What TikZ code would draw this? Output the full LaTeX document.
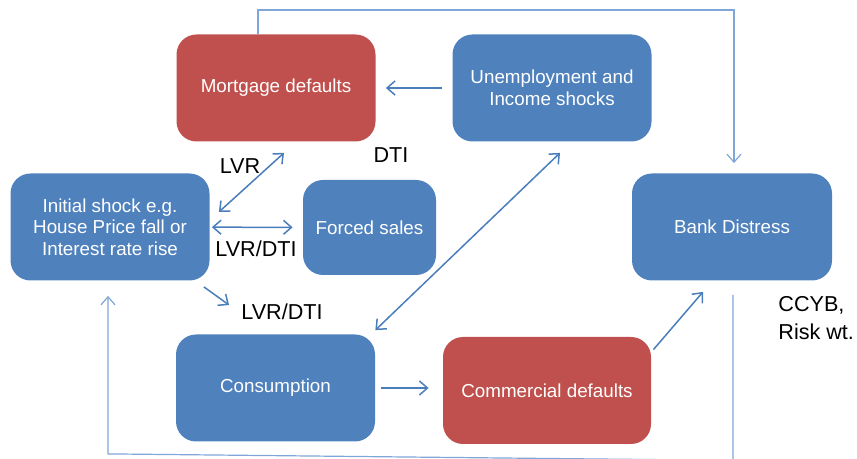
\documentclass[tikz,border=0pt]{standalone}
\usepackage{fontspec}
\setmainfont{Liberation Sans}
\usepackage{tikz}
\usetikzlibrary{calc,arrows.meta,positioning}

\definecolor{boxblue}{HTML}{4F81BD}
\definecolor{boxred}{HTML}{C0504D}
\definecolor{linkblue}{HTML}{4A7EBB}
\definecolor{wireblue}{HTML}{7FA6D8}

\begin{document}
\begin{tikzpicture}[x=0.5pt,y=-0.5pt]

  % Styles
  \tikzstyle{block}=[fill=boxblue,text=white,align=center,minimum width=99.5pt,minimum height=53.5pt,rounded corners=10pt,font=\fontsize{9.4}{10.8}\selectfont]
  \tikzstyle{alarm}=[block,fill=boxred]
  \tikzstyle{link}=[->,>={Straight Barb[length=4pt,width=7pt]},draw=linkblue,line width=0.75pt]
  \tikzstyle{linkboth}=[link,<->]
  \tikzstyle{wire}=[draw=wireblue,line width=0.6pt]
  \tikzstyle{tag}=[font=\fontsize{10.8}{14}\selectfont]

  % \block{<style>}{<id>}{<label>}
  \newcommand{\block}[3]{node[#1] (#2) {#3}}

  % ===========================================================================

  \useasboundingbox (0,0) rectangle (857,459);

  % Draw blocks
  \path (110,227)              \block{block}{init}{Initial shock e.g.\\House Price fall or\\Interest rate rise};
  \path (276,88)               \block{alarm}{mort}{Mortgage defaults};
  \path (mort) +(276,0)        \block{block}{unemp}{Unemployment and\\Income shocks};
  \path (369.5,227.5)          \block{block,minimum width=66.5pt,minimum height=47.5pt}{forced}{Forced sales};
  \path (732,227)              \block{block,minimum width=100pt}{bank}{Bank Distress};
  \path (mort) +(-0.5,300)     \block{block}{cons}{Consumption};
  \path (547,390.5)            \block{alarm,minimum width=104pt}{comm}{Commercial defaults};

  % Draw labels
  \node[tag] (lvr)     at (240,166) {LVR};
  \node[tag] (dti)     at (391,155) {DTI};
  \node[tag] (lvrdti)  at (256,249) {LVR/DTI};
  \node[tag] (lvrdti2) at (282,312) {LVR/DTI};
  \node[tag,align=left,anchor=north west,inner sep=0pt] (ccyb) at (778,296) {CCYB,\\Risk wt.};
  \coordinate (lvrdtiarr) at (229,305);

  % Draw arrows
  \draw[link,shorten >=5pt,shorten <=5pt] (unemp) -- (mort);
  \draw[linkboth] ($(init.east)+(9,-15)$) -- ($(mort.south)+(8,11)$);
  \draw[linkboth,shorten <=1pt,shorten >=5pt] (init) -- (forced);
  \draw[link] ($(init.south east)+(-6,6)$) -- (lvrdtiarr);
  \draw[linkboth] ($(unemp.south)+(8,11)$) -- ($(cons.north east)+(0,-4)$);
  \draw[link,shorten <=3pt,shorten >=7pt] (cons.east) -- (cons.east -| comm.west);
  \draw[link] ($(comm.north east)+(2,13)$) -- ($(bank.south)+(-29,11)$);
  \draw[link,wire] ($(mort.north)+(-18,0)$) -- ++(0,-24) -| ($(bank.north)+(2,-10)$);
  \draw[link,wire] ($(bank.south)+(1,14)$) -- ++(0,165.5) -- ($(init.south)+(-2,173)$) -- ($(init.south)+(-2,15)$);

\end{tikzpicture}
\end{document}
